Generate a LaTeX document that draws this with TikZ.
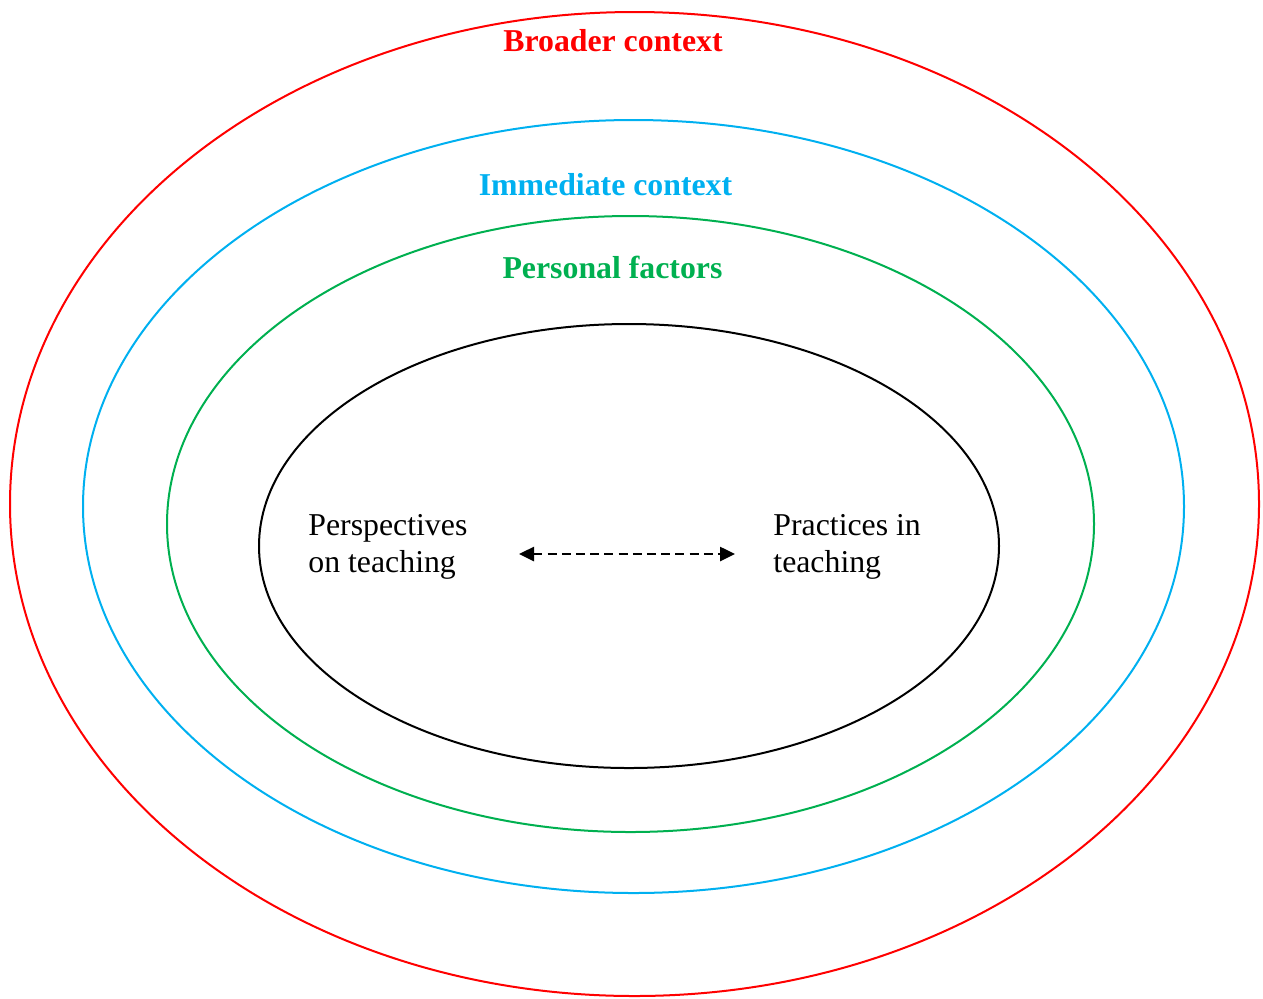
\documentclass[tikz,border=0pt]{standalone}
\usepackage{fontspec}
\setmainfont{Liberation Serif}
\usetikzlibrary{arrows.meta}
\definecolor{ctxred}{HTML}{FF0000}
\definecolor{ctxblue}{HTML}{00B0F0}
\definecolor{ctxgreen}{HTML}{00B050}
\begin{document}
\begin{tikzpicture}[x=0.5pt,y=-0.5pt,
  ring/.style={line width=1pt},
  ringlabel/.style={anchor=base,inner sep=0pt,font=\fontsize{15.9}{19}\selectfont\bfseries},
  inner/.style={anchor=base west,inner sep=0pt,align=left,font=\fontsize{15.9}{18.5}\selectfont},
  link/.style={line width=1.3pt,dash pattern=on 4.5pt off 2.6pt,{Triangle[length=7.5pt,width=7pt]}-{Triangle[length=7.5pt,width=7pt]}}]
\useasboundingbox (0,0) rectangle (1263,998);
% nested context rings
\draw[ring,ctxred]   (634.5,504) ellipse [x radius=624.5,y radius=492];
\draw[ring,ctxblue]  (633.5,506.5) ellipse [x radius=550.5,y radius=386.5];
\draw[ring,ctxgreen] (630.5,524) ellipse [x radius=463.5,y radius=308];
\draw[ring,black]    (629,546) ellipse [x radius=370,y radius=222];
% ring labels
\node[ringlabel,text=ctxred]   (broad) at (613,51) {Broader context};
\node[ringlabel,text=ctxblue]  (immed) at (605.5,195) {Immediate context};
\node[ringlabel,text=ctxgreen] (pers)  at (612.5,278) {Personal factors};
% core relationship (anchored at the baseline of the last line)
\node[inner] (persp) at (308,572) {Perspectives\\on teaching};
\node[inner] (pract) at (773,572) {Practices in\\teaching};
\coordinate (la) at (519,554);
\coordinate (ra) at (735,554);
\draw[link] (la) -- (ra);
\end{tikzpicture}
\end{document}
